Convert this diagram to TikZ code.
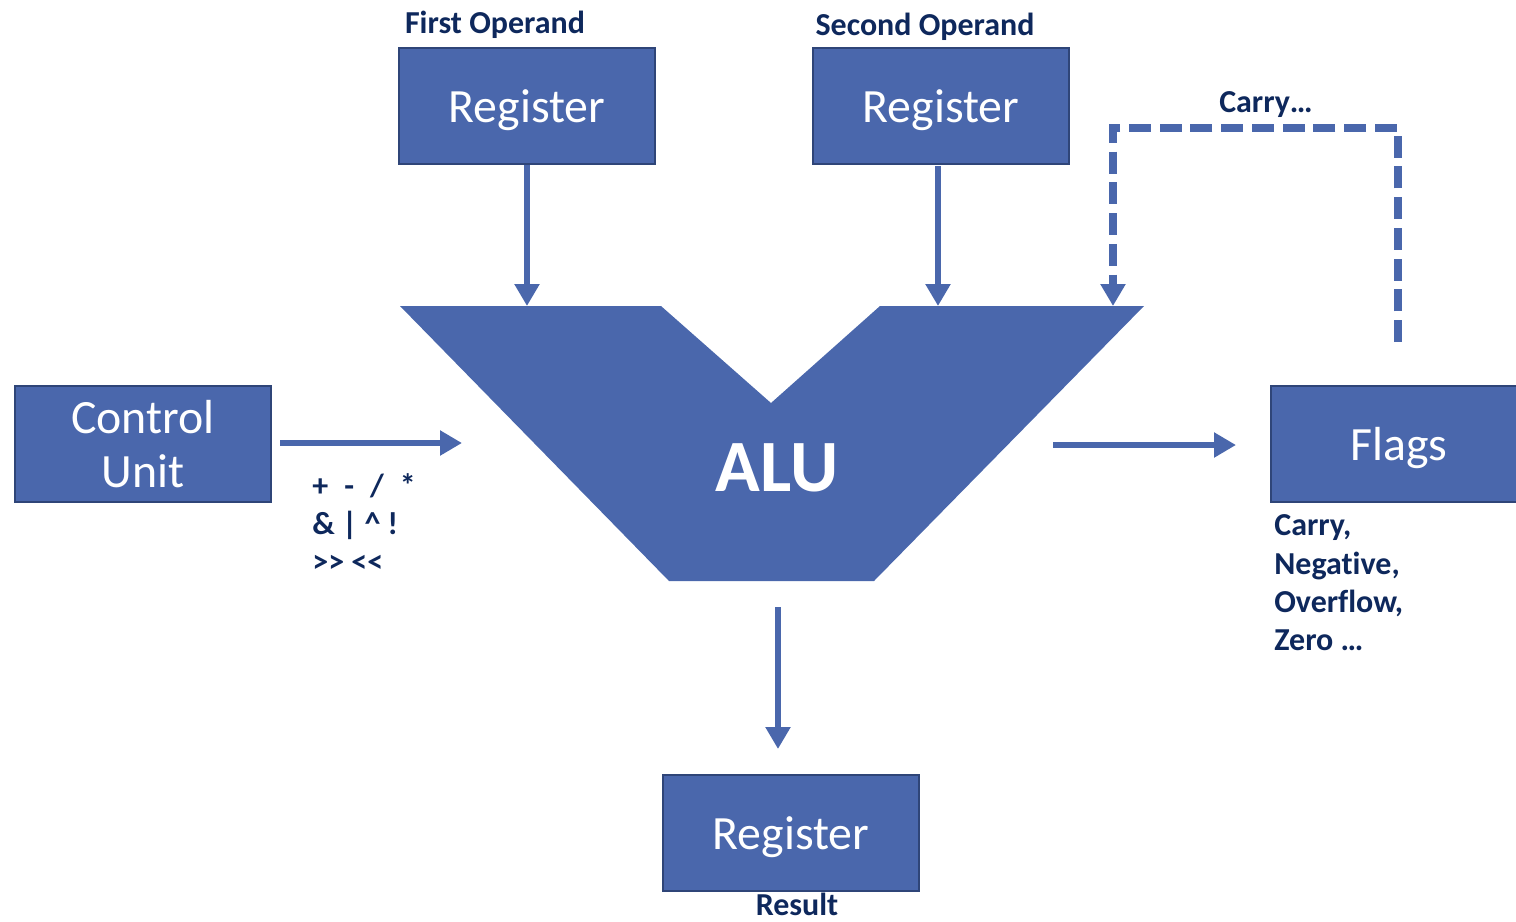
\documentclass[tikz,border=0pt]{standalone}
\usepackage{fontspec}
\setmainfont{Carlito}[Ligatures=NoCommon]
\usetikzlibrary{arrows.meta}
\definecolor{alublue}{RGB}{74,103,172}
\definecolor{aluedge}{RGB}{47,69,120}
\definecolor{navy}{RGB}{14,40,92}
\begin{document}
\begin{tikzpicture}[x=0.02cm,y=-0.02cm,
  box/.style={draw=aluedge,line width=1.1pt,fill=alublue,text=white,
    minimum width=145.7pt,minimum height=65.8pt,inner sep=0pt,
    font=\fontsize{27.2}{30.6}\selectfont,align=center},
  onebox/.style={box,text depth=0pt},
  lbl/.style={text=navy,font=\fontsize{18.2}{21.8}\selectfont\bfseries,inner sep=0pt},
  arr/.style={draw=alublue,line width=3.4pt,-{Triangle[length=12.5pt,width=13.6pt]}},
  dasharr/.style={draw=alublue,line width=4pt,dash pattern=on 12.5pt off 5pt,-{Triangle[length=12.5pt,width=13.6pt]}}]
\clip (0,0) rectangle (1516,921);
% ALU shape
\coordinate (a1) at (400,306);
\coordinate (a2) at (661,306);
\coordinate (a3) at (771,403);
\coordinate (a4) at (880,306);
\coordinate (a5) at (1144,306);
\coordinate (a6) at (874,581);
\coordinate (a7) at (669,581);
\fill[alublue] (a1) -- (a2) -- (a3) -- (a4) -- (a5) -- (a6) -- (a7) -- cycle;
\node[text=white,font=\fontsize{42}{50}\selectfont\bfseries,inner sep=0pt] (alu) at (777,468) {ALU};
% boxes
\node[onebox] (reg1) at (527,106) {Register};
\node[onebox] (reg2) at (941,106) {Register};
\node[box] (cu) at (143,444) {Control\\Unit};
\node[onebox] (flags) at (1399,444) {Flags};
\node[onebox] (res) at (791,833) {Register};
% labels
\node[lbl] (l1) at (495,25) {First Operand};
\node[lbl] (l2) at (925,27) {Second Operand};
\node[lbl] (lc) at (1266,105) {Carry…};
\node[lbl] (lr) at (797,904) {Result};
\node[lbl,align=left,anchor=west] (ops) at (312,523) {+\hspace{0.5em}-\hspace{0.5em}/\hspace{0.5em}*\\\& | \textasciicircum{} !\\>{}> <{}<};
\node[lbl,align=left,anchor=west] (fl) at (1274,583) {Carry,\\Negative,\\Overflow,\\Zero …};
% connectors
\coordinate (t1) at (527,306);
\coordinate (t2) at (938,306);
\coordinate (s2) at (938,166);
\coordinate (cs) at (280,443);
\coordinate (ce) at (462,443);
\coordinate (fs) at (1053,445);
\coordinate (fe) at (1236,445);
\coordinate (rs) at (778,607);
\coordinate (re) at (778,749);
\coordinate (d1) at (1398,342);
\coordinate (d2) at (1398,128);
\coordinate (d3) at (1113,128);
\coordinate (d4) at (1113,306);
\draw[arr] (reg1.south) -- (t1);
\draw[arr] (s2) -- (t2);
\draw[arr] (cs) -- (ce);
\draw[arr] (fs) -- (fe);
\draw[arr] (rs) -- (re);
\draw[dasharr] (d1) -- (d2) -- (d3) -- (d4);
\end{tikzpicture}
\end{document}
